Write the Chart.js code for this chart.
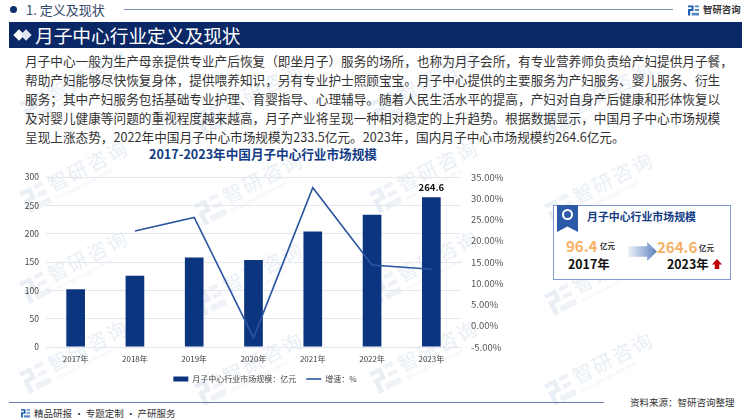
<!DOCTYPE html>
<html>
<head>
<meta charset="utf-8">
<style>
  * { margin: 0; padding: 0; box-sizing: border-box; }
  body { width: 750px; height: 420px; background: #fff; overflow: hidden; position: relative; font-family: "Noto Sans CJK SC", sans-serif; }
  .abs { position: absolute; white-space: nowrap; }
  .mark { position: absolute; width: 110px; height: 44px; transform: rotate(-27deg); color: #eaeff6; white-space: nowrap; }
  .mark b { position: absolute; left: 30px; top: 0; font-size: 20px; font-weight: 400; letter-spacing: 2px; line-height: 26px; }
  .mark i { position: absolute; left: 31px; top: 25px; font-size: 4px; font-style: normal; line-height: 6px; }
  .mark svg { position: absolute; left: 0; top: 4px; width: 26px; height: 26px; }
  .line { position: absolute; left: 25px; font-size: 12.65px; color: #333; white-space: nowrap; line-height: 18px; }
  #chartWrap { position: absolute; left: 0; top: 165px; width: 530px; height: 228px; }
</style>
</head>
<body>
<svg width="0" height="0" style="position:absolute">
  <symbol id="logo" viewBox="0 0 12 12">
    <path d="M0 1H6V7H2.4V12H0V5H3.8V3H0Z" fill="currentColor"/>
    <path d="M7.4 1H12V3H7.4ZM7.4 5H12V7H7.4ZM4 9H12V12H4Z" fill="currentColor" opacity=".75"/>
  </symbol>
</svg>
<div id="marks"></div>

<!-- header -->
<div class="abs" style="left:10px;top:6px;width:7px;height:7px;border-radius:50%;background:#0c2f6d"></div>
<div class="abs" style="left:26px;top:1px;font-size:13px;color:#33466b;line-height:18px">1. 定义及现状</div>
<div class="abs" style="left:124px;top:9px;width:549px;height:1px;background:#7f8fb8"></div>
<svg class="abs" style="left:688px;top:4px;color:#1e5fb0" width="11" height="12"><use href="#logo"/></svg>
<div class="abs" style="left:703px;top:1px;font-size:9.4px;font-weight:700;color:#333;line-height:16px">智研咨询</div>
<div class="abs" style="left:9px;top:22px;width:733px;height:26px;background:#0b2866"></div>
<div class="abs" style="left:15px;top:31px;width:8px;height:8px;background:#fff;transform:rotate(45deg)"></div>
<div class="abs" style="left:22px;top:31px;width:8px;height:8px;background:#dfe6f0;transform:rotate(45deg)"></div>
<div class="abs" style="left:35px;top:22px;font-size:18.7px;color:#fff;line-height:26px">月子中心行业定义及现状</div>

<!-- paragraph -->
<div id="para"></div>

<!-- chart title -->
<div class="abs" style="left:149px;top:145px;font-size:12.6px;font-weight:700;color:#143c85;line-height:18px">2017-2023年中国月子中心行业市场规模</div>

<div id="chartWrap"><canvas id="marketChart" width="530" height="228"></canvas></div>

<!-- side box -->
<div class="abs" style="left:553px;top:205px;width:178px;height:75px;border:1px solid #7f9ad0;background:#fff"></div>
<div class="abs" style="left:557px;top:205px;width:21px;height:27px;background:#2a5aa8;clip-path:polygon(0 0,100% 0,100% 100%,50% 80%,0 100%)"></div>
<div class="abs" style="left:562px;top:209px;width:11px;height:11px;border:2px solid #fff;border-radius:50%"></div>
<div class="abs" style="left:587px;top:207px;font-size:10.9px;font-weight:700;color:#143c85;line-height:18px">月子中心行业市场规模</div>
<div class="abs" style="left:566px;top:236px;font-size:15px;font-weight:700;color:#f5b264;line-height:20px">96.4</div>
<div class="abs" style="left:600px;top:241px;font-size:7.5px;font-weight:700;color:#333;line-height:10px">亿元</div>
<div class="abs" style="left:568px;top:255px;font-size:12.4px;font-weight:700;color:#111;line-height:18px">2017年</div>
<div class="abs" style="left:628px;top:242px;width:29px;height:19px;background:linear-gradient(90deg,#eef2f9,#5f82bd);clip-path:polygon(0 22%,66% 22%,66% 0,100% 50%,66% 100%,66% 78%,0 78%)"></div>
<div class="abs" style="left:657px;top:237px;font-size:15px;font-weight:700;color:#f5b264;line-height:20px">264.6</div>
<div class="abs" style="left:699px;top:243px;font-size:7.5px;font-weight:700;color:#333;line-height:10px">亿元</div>
<div class="abs" style="left:667px;top:255px;font-size:12.4px;font-weight:700;color:#111;line-height:18px">2023年</div>
<div class="abs" style="left:712px;top:259px;width:10px;height:10px;background:#c00000;clip-path:polygon(50% 0,100% 55%,72% 55%,72% 100%,28% 100%,28% 55%,0 55%)"></div>

<!-- footer -->
<div class="abs" style="left:9px;top:402px;width:595px;height:1px;background:#6a7cab"></div>
<svg class="abs" style="left:21px;top:408px;color:#1e5fb0" width="9" height="10"><use href="#logo"/></svg>
<div class="abs" style="left:34px;top:406px;font-size:9.5px;color:#333;line-height:14px">精品研报 · 专题定制 · 产研服务</div>
<div class="abs" style="left:630px;top:395px;font-size:9.5px;color:#333;line-height:14px">资料来源：智研咨询整理</div>

<script src="https://cdn.jsdelivr.net/npm/chart.js@4"></script>
<script>
const categories = ['2017年', '2018年', '2019年', '2020年', '2021年', '2022年', '2023年'];
const marketSize = [102, 126, 158, 153.5, 204, 233.5, 264.6];
const growthRate = [null, 22.3, 25.5, -2.8, 32.5, 14.3, 13.3];
const leftTicks = [0, 50, 100, 150, 200, 250, 300];
const paragraphLines = [
  '月子中心一般为生产母亲提供专业产后恢复（即坐月子）服务的场所，也称为月子会所，有专业营养师负责给产妇提供月子餐，',
  '帮助产妇能够尽快恢复身体，提供喂养知识，另有专业护士照顾宝宝。月子中心提供的主要服务为产妇服务、婴儿服务、衍生',
  '服务；其中产妇服务包括基础专业护理、育婴指导、心理辅导。随着人民生活水平的提高，产妇对自身产后健康和形体恢复以',
  '及对婴儿健康等问题的重视程度越来越高，月子产业将呈现一种相对稳定的上升趋势。根据数据显示，中国月子中心市场规模',
  '呈现上涨态势，2022年中国月子中心市场规模为233.5亿元。2023年，国内月子中心市场规模约264.6亿元。'
];

// Paragraph text
const para = document.getElementById('para');
paragraphLines.forEach((text, i) => {
  const row = document.createElement('div');
  row.className = 'line';
  row.style.top = (51.5 + i * 19.1) + 'px';
  row.textContent = text;
  para.appendChild(row);
});

// Background watermark
const marks = document.getElementById('marks');
[70, 160, 250, 340].forEach(y => {
  [20, 195, 370, 545].forEach((x, col) => {
    const m = document.createElement('div');
    m.className = 'mark';
    m.style.left = x + 'px';
    m.style.top = (y + (col % 2) * 12) + 'px';
    m.innerHTML = '<svg><use href="#logo"/></svg><b>智研咨询</b><i>INTELLIGENCE RESEARCH GROUP</i>';
    marks.appendChild(m);
  });
});

// Data label above the last bar only
const lastBarLabel = {
  id: 'lastBarLabel',
  afterDatasetsDraw(chart) {
    const bar = chart.getDatasetMeta(0).data[6];
    const c = chart.ctx;
    c.save();
    c.font = '700 9.5px "Noto Sans CJK SC"';
    c.fillStyle = '#111';
    c.textAlign = 'center';
    c.textBaseline = 'bottom';
    c.fillText(marketSize[6], bar.x, bar.y - 5);
    c.restore();
  }
};

const ctx = document.getElementById('marketChart').getContext('2d');
new Chart(ctx, {
  type: 'bar',
  data: {
    labels: categories,
    datasets: [
      {
        label: '月子中心行业市场规模：亿元',
        data: marketSize,
        yAxisID: 'y',
        backgroundColor: '#0c3580',
        pointStyle: 'rect',
        barPercentage: 0.315,
        categoryPercentage: 1,
        order: 1
      },
      {
        type: 'line',
        label: '增速：%',
        data: growthRate,
        yAxisID: 'y2',
        borderColor: '#2b55a1',
        backgroundColor: '#2b55a1',
        borderWidth: 1.6,
        pointRadius: 0,
        pointStyle: 'line',
        tension: 0,
        spanGaps: false,
        order: 0
      }
    ]
  },
  options: {
    responsive: false,
    animation: false,
    layout: { padding: { left: 0, right: 0, top: 7, bottom: 0 } },
    plugins: {
      legend: {
        position: 'bottom',
        labels: {
          usePointStyle: true,
          pointStyleWidth: 15,
          boxHeight: 5,
          padding: 10,
          color: '#444',
          font: { size: 8, family: '"Noto Sans CJK SC"' },
          sort: (a, b) => a.datasetIndex - b.datasetIndex
        }
      },
      tooltip: { enabled: false }
    },
    scales: {
      x: {
        grid: { display: false, drawTicks: false },
        border: { color: '#e3e6ec' },
        afterFit: axis => { axis.height = 18; },
        ticks: { color: '#444', maxRotation: 0, padding: 7, font: { size: 8, family: '"Noto Sans CJK SC"' } }
      },
      y: {
        min: 0,
        max: 300,
        afterBuildTicks: axis => { axis.ticks = leftTicks.map(v => ({ value: v })); },
        afterFit: axis => { axis.width = 46; },
        grid: { color: '#e3e6ec', drawTicks: false },
        border: { display: false },
        ticks: { color: '#444', padding: 7, font: { size: 8.5, family: '"Noto Sans CJK SC"' } }
      },
      y2: {
        position: 'right',
        min: -5,
        max: 35,
        afterFit: axis => { axis.width = 69; },
        grid: { display: false },
        border: { display: false },
        ticks: {
          stepSize: 5,
          color: '#555',
          padding: 2,
          font: { size: 9.5, family: '"Noto Sans CJK SC"' },
          callback: v => v.toFixed(2) + '%'
        }
      }
    }
  },
  plugins: [lastBarLabel]
});
</script>
</body>
</html>
